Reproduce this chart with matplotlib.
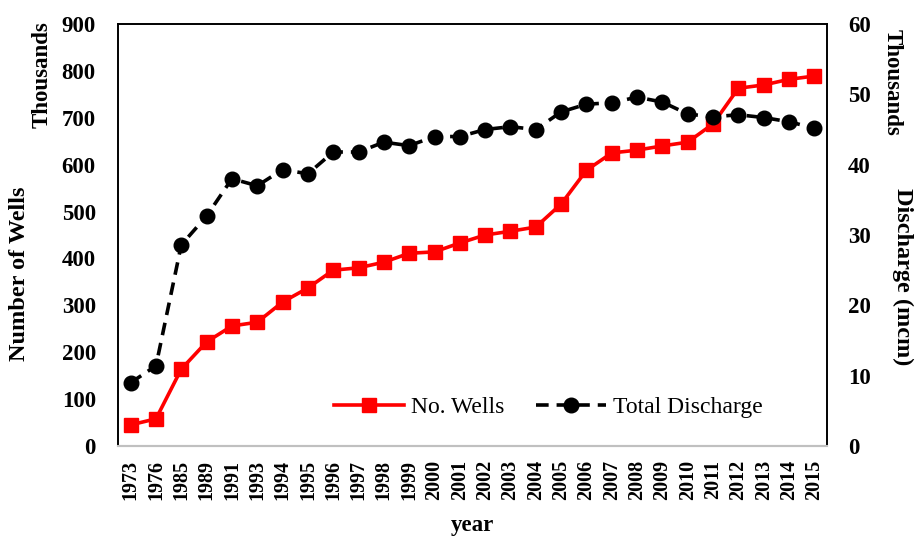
import numpy as np
import matplotlib.pyplot as plt
from matplotlib.lines import Line2D

plt.rcParams['font.family'] = ['Liberation Serif', 'DejaVu Serif']
plt.rcParams['font.weight'] = 'bold'

# Data (thousands)
years = ['1973', '1976', '1985', '1989', '1991', '1993', '1994', '1995', '1996', '1997',
         '1998', '1999', '2000', '2001', '2002', '2003', '2004', '2005', '2006', '2007',
         '2008', '2009', '2010', '2011', '2012', '2013', '2014', '2015']
wells = [45, 58, 164, 222, 256, 264, 307, 337, 375, 380,
         392, 411, 414, 433, 450, 458, 467, 516, 588, 625,
         631, 640, 648, 687, 763, 770, 782, 789]
discharge = [9.0, 11.4, 28.6, 32.7, 38.0, 37.0, 39.3, 38.7, 41.8, 41.8,
             43.2, 42.7, 44.0, 44.0, 45.0, 45.4, 45.0, 47.5, 48.6, 48.8,
             49.6, 48.9, 47.2, 46.8, 47.1, 46.7, 46.1, 45.2]

x = np.arange(len(years))
dash = (0, (3.5, 2.2))

fig = plt.figure(figsize=(9.15, 5.37), dpi=100)
ax = fig.add_axes([118 / 915, 1 - 446 / 537, (827 - 118) / 915, (446 - 24) / 537])
ax2 = ax.twinx()

ax.plot(x, wells, color='#ff0000', lw=2.6, marker='s', ms=10.5, zorder=3)
ax2.plot(x, discharge, color='black', lw=2.6, ls=dash, marker='o', ms=10.5, zorder=3)

ax.set_xlim(-0.5, len(years) - 0.5)
ax.set_ylim(0, 900)
ax2.set_ylim(0, 60)
ax.set_yticks(np.arange(0, 901, 100))
ax2.set_yticks(np.arange(0, 61, 10))
ax.set_xticks(x)
ax.set_xticklabels(years, rotation=90, fontsize=14.5, fontweight='bold')
ax.tick_params(axis='x', length=0, pad=10)
ax.tick_params(axis='y', length=0, pad=16)
ax2.tick_params(axis='y', length=0, pad=15)
for lab in ax.get_yticklabels() + ax2.get_yticklabels():
    lab.set_fontsize(16.5)
    lab.set_fontweight('bold')

for a in (ax, ax2):
    for s in ('left', 'right', 'top'):
        a.spines[s].set_color('black')
        a.spines[s].set_linewidth(1.2)
    a.spines['bottom'].set_color('#c0c0c0')
    a.spines['bottom'].set_linewidth(1.5)

fig.text(472 / 915, 1 - 526 / 537, 'year', ha='center', va='center',
         fontsize=16.5, fontweight='bold')

fig.text(20 / 915, 1 - 274 / 537, 'Number of Wells', rotation=90, ha='center', va='center',
         fontsize=17.5, fontweight='bold')
fig.text(42 / 915, 1 - 75 / 537, 'Thousands', rotation=90, ha='center', va='center',
         fontsize=16.5, fontweight='bold')
fig.text(892 / 915, 1 - 82 / 537, 'Thousands', rotation=270, ha='center', va='center',
         fontsize=16.5, fontweight='bold')
fig.text(903 / 915, 1 - 277 / 537, 'Discharge (mcm)', rotation=270, ha='center', va='center',
         fontsize=17.5, fontweight='bold')

handles = [
    Line2D([0], [0], color='#ff0000', lw=2.6, marker='s', ms=10.5),
    Line2D([0], [0], color='black', lw=2.6, ls=dash, marker='o', ms=10.5),
]
ax2.legend(handles, ['No. Wells', 'Total Discharge'], loc='center right',
           bbox_to_anchor=(1 - 52 / 709, (446 - 407) / 422), ncol=2, frameon=False,
           handlelength=3.0, handletextpad=0.3, columnspacing=1.3, borderpad=0,
           prop={'size': 17, 'weight': 'normal'})

fig.savefig('out.png', dpi=100)
